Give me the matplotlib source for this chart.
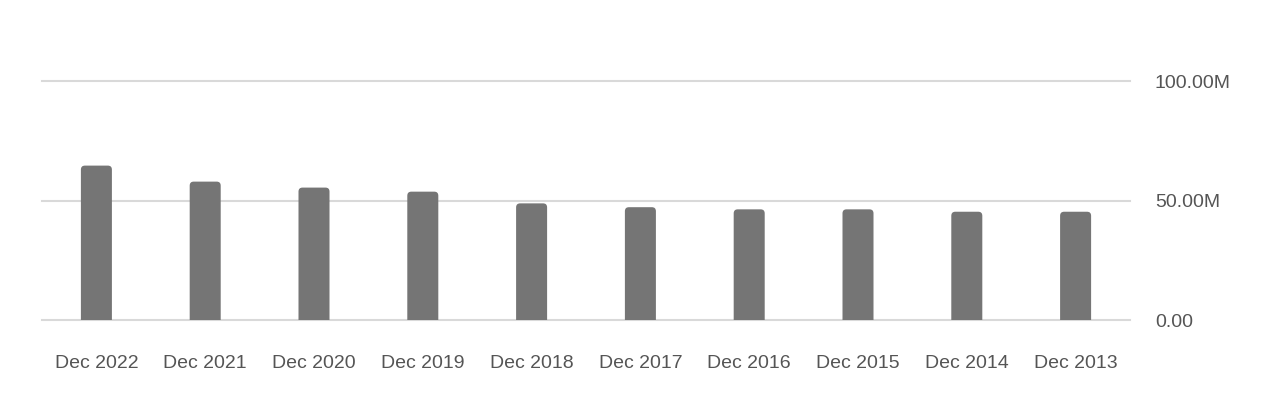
import matplotlib
matplotlib.use("Agg")
import matplotlib.pyplot as plt
from matplotlib.patches import FancyBboxPatch
from matplotlib.ticker import FixedLocator

categories = ["Dec 2022", "Dec 2021", "Dec 2020", "Dec 2019", "Dec 2018",
              "Dec 2017", "Dec 2016", "Dec 2015", "Dec 2014", "Dec 2013"]
values = [64.6e6, 57.9e6, 55.4e6, 53.7e6, 48.8e6,
          47.2e6, 46.3e6, 46.3e6, 45.3e6, 45.3e6]
yticks = [0, 50e6, 100e6]
ytick_labels = ["0.00", "50.00M", "100.00M"]

W, H = 1280, 411
fig = plt.figure(figsize=(W / 100, H / 100), dpi=100)
plt.rcParams['font.family'] = ['Liberation Sans', 'DejaVu Sans']

left, right, top, bottom = 42, 1130, 81, 320
ax = fig.add_axes([left / W, 1 - bottom / H, (right - left) / W, (bottom - top) / H])
ax.set_xlim(-0.5, len(categories) - 0.5)
ax.set_ylim(0, 100e6)

for yt in yticks:
    ax.axhline(yt, color="#d9d9d9", lw=1.5, zorder=1, clip_on=False)

bar_w = 0.285
bars = ax.bar(range(len(categories)), values, width=bar_w, color="#757575", zorder=2)
# replace with rounded-top patches
px_x = (right - left) / len(categories)          # px per x unit
px_y = (bottom - top) / 100e6                    # px per y unit
aspect = (1 / px_y) / (1 / px_x)
r = 4 / px_x
for b in bars:
    x, w, h = b.get_x(), b.get_width(), b.get_height()
    b.set_visible(False)
    ext = r * aspect * 1.5
    p = FancyBboxPatch((x, -ext), w, h + ext,
                       boxstyle=f"round,pad=0,rounding_size={r}",
                       mutation_aspect=aspect, facecolor="#757575",
                       edgecolor="none", zorder=3)
    ax.add_patch(p)
    p.set_clip_path(ax.patch)

for s in ax.spines.values():
    s.set_visible(False)
ax.set_xticks(range(len(categories)))
ax.set_xticklabels(categories)
ax.yaxis.set_major_locator(FixedLocator(yticks))
ax.set_yticklabels(ytick_labels)
ax.yaxis.tick_right()
ax.tick_params(axis="x", length=0, pad=25.5, labelsize=14, labelcolor="#555555")
ax.tick_params(axis="y", length=0, pad=18, labelsize=14, labelcolor="#555555")
for lab in ax.get_yticklabels():
    lab.set_horizontalalignment("left")

fig.savefig("out.png", dpi=100, facecolor="white")
